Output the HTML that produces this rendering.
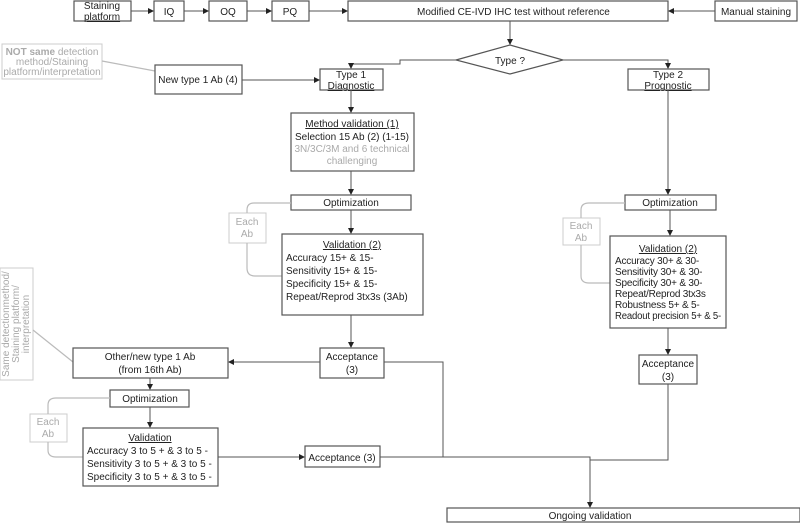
<!DOCTYPE html>
<html><head><meta charset="utf-8"><style>
body{margin:0;background:#fff}
svg{display:block}
text{font-family:"Liberation Sans",sans-serif;font-size:10px;fill:#222}
.b{fill:#fff;stroke:#555;stroke-width:1.2}
.g{fill:#fff;stroke:#ccc;stroke-width:1}
.l{stroke:#555;stroke-width:1;fill:none}
.gl{stroke:#bbb;stroke-width:1.2;fill:none}
.gt{fill:#aaa}
</style></head><body>
<svg width="800" height="523" viewBox="0 0 800 523" xmlns="http://www.w3.org/2000/svg">
<defs><marker id="a" markerWidth="6" markerHeight="6" refX="5" refY="3" orient="auto"><path d="M0,0L6,3L0,6z" fill="#222"/></marker></defs>
<rect class="b" x="74" y="1" width="57" height="20"/>
<text x="102" y="9" text-anchor="middle">Staining</text><text x="102" y="20" text-anchor="middle" text-decoration="underline">platform</text>
<rect class="b" x="154" y="1" width="30" height="20"/><text x="169" y="15" text-anchor="middle">IQ</text>
<rect class="b" x="209" y="1" width="38" height="20"/><text x="228" y="15" text-anchor="middle">OQ</text>
<rect class="b" x="272" y="1" width="37" height="20"/><text x="290" y="15" text-anchor="middle">PQ</text>
<rect class="b" x="348" y="1" width="320" height="20"/><text x="417" y="15">Modified CE-IVD IHC test  without reference</text>
<rect class="b" x="715" y="1" width="82" height="20"/><text x="756" y="15" text-anchor="middle">Manual staining</text>
<path class="l" d="M131,11H153" marker-end="url(#a)"/>
<path class="l" d="M184,11H208" marker-end="url(#a)"/>
<path class="l" d="M247,11H271" marker-end="url(#a)"/>
<path class="l" d="M309,11H347" marker-end="url(#a)"/>
<path class="l" d="M715,11H669" marker-end="url(#a)"/>
<path class="l" d="M510,21V44" marker-end="url(#a)"/>
<path class="b" d="M456,60L510,45L563,60L510,74z"/>
<text x="510" y="64" text-anchor="middle">Type ?</text>
<path class="l" d="M456,60H400V64H351V68" marker-end="url(#a)"/>
<path class="l" d="M563,60H668V68" marker-end="url(#a)"/>
<rect class="b" x="320" y="69" width="63" height="21"/>
<text x="351" y="78" text-anchor="middle">Type 1</text><text x="351" y="89" text-anchor="middle" text-decoration="underline">Diagnostic</text>
<rect class="b" x="628" y="69" width="81" height="21"/>
<text x="668" y="78" text-anchor="middle">Type 2</text><text x="668" y="89" text-anchor="middle" text-decoration="underline">Prognostic</text>
<rect class="g" x="2" y="44" width="100" height="35"/>
<text x="52" y="55" text-anchor="middle" class="gt" font-size="8.5"><tspan font-weight="bold">NOT same</tspan> detection</text>
<text x="52" y="65" text-anchor="middle" class="gt" font-size="8.5">method/Staining</text>
<text x="52" y="75" text-anchor="middle" class="gt" font-size="8.5">platform/interpretation</text>
<path class="gl" d="M102,61L155,71"/>
<rect class="b" x="155" y="65" width="87" height="29"/>
<text x="198" y="83" text-anchor="middle">New type 1 Ab (4)</text>
<path class="l" d="M242,80H319" marker-end="url(#a)"/>
<path class="l" d="M351,90V112" marker-end="url(#a)"/>
<rect class="b" x="291" y="113" width="123" height="58"/>
<text x="352" y="127" text-anchor="middle" text-decoration="underline">Method validation (1)</text>
<text x="352" y="140" text-anchor="middle">Selection 15 Ab (2) (1-15)</text>
<text x="352" y="152" text-anchor="middle" class="gt">3N/3C/3M and 6 technical</text>
<text x="352" y="164" text-anchor="middle" class="gt">challenging</text>
<path class="l" d="M351,171V194" marker-end="url(#a)"/>
<rect class="b" x="291" y="195" width="120" height="15"/>
<text x="351" y="206" text-anchor="middle">Optimization</text>
<rect class="g" x="229" y="213" width="37" height="30"/>
<text x="247" y="225" text-anchor="middle" class="gt">Each</text><text x="247" y="237" text-anchor="middle" class="gt">Ab</text>
<path class="gl" d="M291,203H254Q247,203 247,210V213M247,243V268Q247,276 255,276H282"/>
<path class="l" d="M351,210V233" marker-end="url(#a)"/>
<rect class="b" x="282" y="234" width="141" height="81"/>
<text x="352" y="248" text-anchor="middle" text-decoration="underline">Validation (2)</text>
<text x="286" y="261">Accuracy 15+ &amp; 15-</text>
<text x="286" y="274">Sensitivity 15+ &amp; 15-</text>
<text x="286" y="287">Specificity 15+ &amp; 15-</text>
<text x="286" y="300">Repeat/Reprod 3tx3s (3Ab)</text>
<path class="l" d="M351,315V347" marker-end="url(#a)"/>
<rect class="b" x="320" y="348" width="64" height="30"/>
<text x="352" y="360" text-anchor="middle">Acceptance</text><text x="352" y="373" text-anchor="middle">(3)</text>
<path class="l" d="M320,362H229" marker-end="url(#a)"/>
<path class="l" d="M384,362H443V457"/>
<rect class="g" x="0" y="268" width="33" height="112"/>
<g transform="translate(9,324) rotate(-90)"><text text-anchor="middle" class="gt" font-size="9">Same detectionmethod/</text></g>
<g transform="translate(19,324) rotate(-90)"><text text-anchor="middle" class="gt" font-size="9">Staining platform/</text></g>
<g transform="translate(29,324) rotate(-90)"><text text-anchor="middle" class="gt" font-size="9">interpretation</text></g>
<path class="gl" d="M33,330L73,362"/>
<rect class="b" x="73" y="348" width="155" height="30"/>
<text x="150" y="360" text-anchor="middle">Other/new type 1 Ab</text><text x="150" y="373" text-anchor="middle">(from 16th Ab)</text>
<path class="l" d="M150,378V389" marker-end="url(#a)"/>
<rect class="b" x="110" y="390" width="79" height="17"/>
<text x="150" y="402" text-anchor="middle">Optimization</text>
<rect class="g" x="30" y="414" width="37" height="28"/>
<text x="48" y="425" text-anchor="middle" class="gt">Each</text><text x="48" y="437" text-anchor="middle" class="gt">Ab</text>
<path class="gl" d="M110,398H56Q48,398 48,405V414M48,442V450Q48,457 56,457H83"/>
<path class="l" d="M150,407V427" marker-end="url(#a)"/>
<rect class="b" x="83" y="428" width="135" height="58"/>
<text x="150" y="441" text-anchor="middle" text-decoration="underline">Validation</text>
<text x="87" y="454">Accuracy 3 to 5 + &amp; 3 to 5 -</text>
<text x="87" y="467">Sensitivity 3 to 5 + &amp; 3 to 5 -</text>
<text x="87" y="480">Specificity 3 to 5 + &amp; 3 to 5 -</text>
<path class="l" d="M218,457H304" marker-end="url(#a)"/>
<rect class="b" x="305" y="446" width="75" height="21"/>
<text x="342" y="461" text-anchor="middle">Acceptance (3)</text>
<path class="l" d="M380,457H590V507" marker-end="url(#a)"/>
<path class="l" d="M668,90V194" marker-end="url(#a)"/>
<rect class="b" x="625" y="195" width="91" height="15"/>
<text x="670" y="206" text-anchor="middle">Optimization</text>
<rect class="g" x="563" y="218" width="37" height="27"/>
<text x="581" y="229" text-anchor="middle" class="gt">Each</text><text x="581" y="241" text-anchor="middle" class="gt">Ab</text>
<path class="gl" d="M625,203H589Q581,203 581,210V218M581,245V276Q581,283 589,283H610"/>
<path class="l" d="M670,210V235" marker-end="url(#a)"/>
<rect class="b" x="610" y="236" width="116" height="92"/>
<text x="668" y="252" text-anchor="middle" text-decoration="underline" font-size="9">Validation (2)</text>
<g font-size="8.7" letter-spacing="-0.2">
<text x="615" y="264" font-size="8.7">Accuracy 30+ &amp; 30-</text>
<text x="615" y="275" font-size="8.7">Sensitivity 30+ &amp; 30-</text>
<text x="615" y="286" font-size="8.7">Specificity 30+ &amp; 30-</text>
<text x="615" y="297" font-size="8.7">Repeat/Reprod 3tx3s</text>
<text x="615" y="308" font-size="8.7">Robustness 5+ &amp; 5-</text>
<text x="615" y="319" font-size="8.7" textLength="106" lengthAdjust="spacingAndGlyphs">Readout precision  5+ &amp; 5-</text>
</g>
<path class="l" d="M668,328V354" marker-end="url(#a)"/>
<rect class="b" x="639" y="355" width="58" height="29"/>
<text x="668" y="367" text-anchor="middle">Acceptance</text><text x="668" y="380" text-anchor="middle">(3)</text>
<path class="l" d="M668,384V460H590"/>
<rect class="b" x="447" y="508" width="353" height="14"/>
<text x="590" y="519" text-anchor="middle">Ongoing validation</text>
</svg>
</body></html>
